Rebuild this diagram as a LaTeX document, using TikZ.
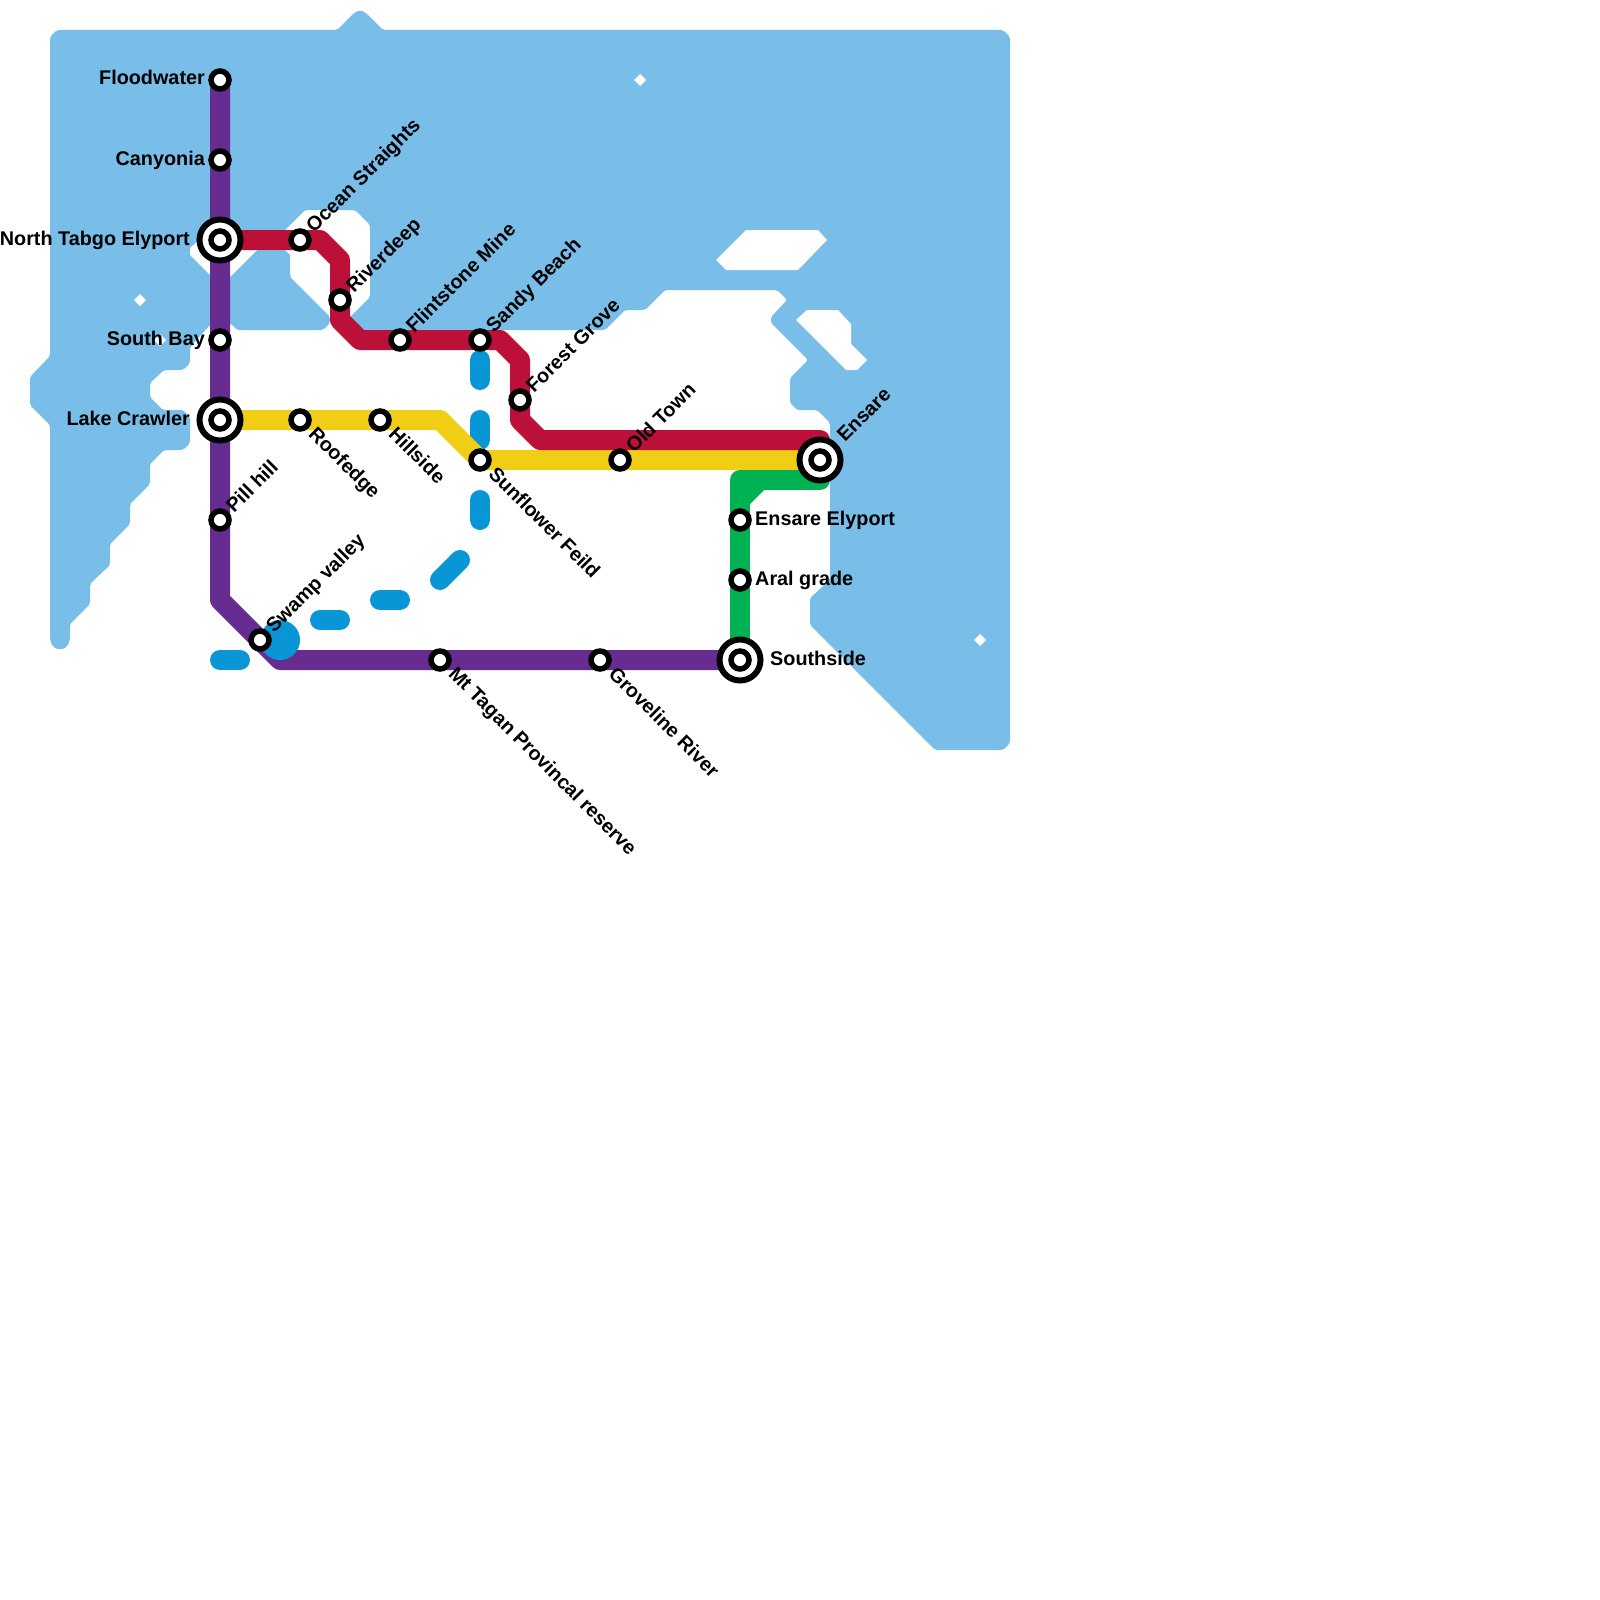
\documentclass[tikz,border=0pt]{standalone}
\usepackage{fontspec}
\setmainfont{Liberation Sans}
\usetikzlibrary{backgrounds}
\definecolor{waterblue}{HTML}{79BDE9}
\definecolor{riverblue}{HTML}{0896D7}
\definecolor{linepurple}{HTML}{662C90}
\definecolor{linered}{HTML}{BD1038}
\definecolor{lineyellow}{HTML}{F0CE15}
\definecolor{linegreen}{HTML}{00B251}
\tikzset{
    stn/.style={circle, draw=black, fill=white, line width=5.5pt, inner sep=0pt, outer sep=0pt, minimum size=18pt},
    hub/.style={stn, line width=6pt, minimum size=41pt},
    metro/.style={line width=20pt, line cap=round, line join=round},
    lab/.style={font=\fontsize{19.8}{24}\selectfont\bfseries, inner sep=0pt, text=black},
    leftlab/.style={lab, anchor=base east, xshift=-15pt, yshift=-5pt},
    bigleftlab/.style={lab, anchor=base east, xshift=-30pt, yshift=-5pt},
    rightlab/.style={lab, anchor=base west, xshift=15pt, yshift=-5pt},
    bigrightlab/.style={lab, anchor=base west, xshift=30pt, yshift=-5pt},
    uplab/.style={lab, anchor=base west, xshift=14pt, yshift=6pt, rotate=45},
    biguplab/.style={lab, anchor=base west, xshift=25pt, yshift=17pt, rotate=45},
    downlab/.style={lab, anchor=base west, xshift=7.5pt, yshift=-15pt, rotate=-45}
}
\begin{document}
\begin{tikzpicture}[x=1pt, y=-1pt]
    \useasboundingbox (0,0) rectangle (1600,1600);

    % Stations
    \node[stn] (floodwater) at (220,80) {};
    \node[stn] (canyonia) at (220,160) {};
    \node[hub] (tabgo) at (220,240) {};
    \node[stn] (tabgoIn) at (tabgo) {};
    \node[stn] (southbay) at (220,340) {};
    \node[hub] (crawler) at (220,420) {};
    \node[stn] (crawlerIn) at (crawler) {};
    \node[stn] (pillhill) at (220,520) {};
    \node[stn] (swamp) at (260,640) {};
    \node[stn] (tagan) at (440,660) {};
    \node[stn] (groveline) at (600,660) {};
    \node[hub] (southside) at (740,660) {};
    \node[stn] (southsideIn) at (southside) {};
    \node[stn] (ocean) at (300,240) {};
    \node[stn] (riverdeep) at (340,300) {};
    \node[stn] (flintstone) at (400,340) {};
    \node[stn] (sandy) at (480,340) {};
    \node[stn] (forest) at (520,400) {};
    \node[stn] (roofedge) at (300,420) {};
    \node[stn] (hillside) at (380,420) {};
    \node[stn] (sunflower) at (480,460) {};
    \node[stn] (oldtown) at (620,460) {};
    \node[hub] (ensare) at (820,460) {};
    \node[stn] (ensareIn) at (ensare) {};
    \node[stn] (elyport) at (740,520) {};
    \node[stn] (aral) at (740,580) {};

    % Labels
    \node[leftlab] (floodwaterLab) at (floodwater) {Floodwater};
    \node[leftlab] (canyoniaLab) at (canyonia) {Canyonia};
    \node[bigleftlab] (tabgoLab) at (tabgo) {North Tabgo Elyport};
    \node[leftlab] (southbayLab) at (southbay) {South Bay};
    \node[bigleftlab] (crawlerLab) at (crawler) {Lake Crawler};
    \node[uplab] (pillhillLab) at (pillhill) {Pill hill};
    \node[uplab] (swampLab) at (swamp) {Swamp valley};
    \node[downlab] (taganLab) at (tagan) {Mt Tagan Provincal reserve};
    \node[downlab] (grovelineLab) at (groveline) {Groveline River};
    \node[bigrightlab] (southsideLab) at (southside) {Southside};
    \node[uplab] (oceanLab) at (ocean) {Ocean Straights};
    \node[uplab] (riverdeepLab) at (riverdeep) {Riverdeep};
    \node[uplab] (flintstoneLab) at (flintstone) {Flintstone Mine};
    \node[uplab] (sandyLab) at (sandy) {Sandy Beach};
    \node[uplab] (forestLab) at (forest) {Forest Grove};
    \node[downlab] (roofedgeLab) at (roofedge) {Roofedge};
    \node[downlab] (hillsideLab) at (hillside) {Hillside};
    \node[downlab] (sunflowerLab) at (sunflower) {Sunflower Feild};
    \node[uplab] (oldtownLab) at (oldtown) {Old Town};
    \node[biguplab] (ensareLab) at (ensare) {Ensare};
    \node[rightlab] (elyportLab) at (elyport) {Ensare Elyport};
    \node[rightlab] (aralLab) at (aral) {Aral grade};

    % Bends
    \coordinate (purpleA) at (220,600);
    \coordinate (purpleB) at (280,660);
    \coordinate (redA) at (320,240);
    \coordinate (redB) at (340,260);
    \coordinate (redC) at (340,320);
    \coordinate (redD) at (360,340);
    \coordinate (redE) at (500,340);
    \coordinate (redF) at (520,360);
    \coordinate (redG) at (520,420);
    \coordinate (redH) at (540,440);
    \coordinate (redI) at (820,440);
    \coordinate (yellowA) at (440,420);
    \coordinate (greenA) at (820,480);
    \coordinate (greenB) at (740,480);
    \coordinate (greenC) at (760,480);
    \coordinate (greenD) at (740,500);

    \begin{scope}[on background layer]
        % Water
        \fill[waterblue, rounded corners=2pt] (50,37) -- (57,30) -- (337,30) -- (354,13) -- (360,10) -- (366,13)
            -- (383,30) -- (1003,30) -- (1010,37) -- (1010,743) -- (1003,750) -- (935,750) -- (810,625)
            -- (810,598) -- (830,580) -- (830,423) -- (817,410) -- (797,410) -- (790,403) -- (790,378)
            -- (808,360) -- (771,323) -- (771,317) -- (787,300) -- (777,290) -- (665,290) -- (645,310)
            -- (625,310) -- (605,330) -- (363,330) -- (350,317) -- (370,297) -- (370,225) -- (355,210)
            -- (305,210) -- (285,230) -- (290,235) -- (290,277) -- (330,317) -- (330,323) -- (323,330)
            -- (237,330) -- (230,323) -- (210,325) -- (190,347) -- (190,363) -- (183,370) -- (164,370)
            -- (150,383) -- (150,397) -- (163,410) -- (183,410) -- (190,417) -- (190,443) -- (183,450)
            -- (164,450) -- (150,464) -- (150,484) -- (130,504) -- (130,524) -- (110,544) -- (110,565)
            -- (90,584) -- (90,604) -- (70,624) -- (70,640) -- (67,647) -- (60,650) -- (53,647) -- (50,640)
            -- (50,425) -- (30,405) -- (30,377) -- (50,356) -- cycle;

        % Land
        \fill[white] (190,248) -- (205,235) -- (290,235) -- (290,255) -- (285,250) -- (257,250) -- (230,277)
            -- (210,275) -- (190,255) -- cycle;
        \fill[white] (746,230) -- (818,230) -- (827,240) -- (798,270) -- (726,270) -- (716,260) -- cycle;
        \fill[white] (807,310) -- (838,310) -- (851,324) -- (851,344) -- (867,360) -- (857,370)
            -- (846,370) -- (796,320) -- cycle;
        \foreach \x/\y in {140/300, 160/340, 640/80, 980/640} {
            \fill[white, shift={(\x,\y)}] (-6,0) -- (0,-6) -- (6,0) -- (0,6) -- cycle;
        }

        % Purple line
        \draw[metro, linepurple] (floodwater.center) -- (canyonia.center) -- (tabgo.center)
            -- (southbay.center) -- (crawler.center) -- (pillhill.center) -- (purpleA) -- (swamp.center)
            -- (purpleB) -- (tagan.center) -- (groveline.center) -- (southside.center);

        % River
        \fill[riverblue] (280,640) circle (20);
        \foreach \a/\b/\c/\d in {480/360/480/380, 480/420/480/440, 480/500/480/520, 440/580/460/560,
                380/600/400/600, 320/620/340/620, 220/660/240/660} {
            \draw[metro, riverblue] (\a,\b) -- (\c,\d);
        }

        % Other lines
        \draw[metro, lineyellow] (crawler.center) -- (roofedge.center) -- (hillside.center) -- (yellowA)
            -- (sunflower.center) -- (oldtown.center) -- (ensare.center);
        \draw[metro, linered] (tabgo.center) -- (ocean.center) -- (redA) -- (redB) -- (riverdeep.center)
            -- (redC) -- (redD) -- (flintstone.center) -- (sandy.center) -- (redE) -- (redF)
            -- (forest.center) -- (redG) -- (redH) -- (redI) -- (ensare.center);
        \draw[metro, linegreen] (ensare.center) -- (greenA) -- (greenB) -- (elyport.center)
            -- (aral.center) -- (southside.center);
        \draw[metro, linegreen] (greenC) -- (greenD);
    \end{scope}
\end{tikzpicture}
\end{document}
